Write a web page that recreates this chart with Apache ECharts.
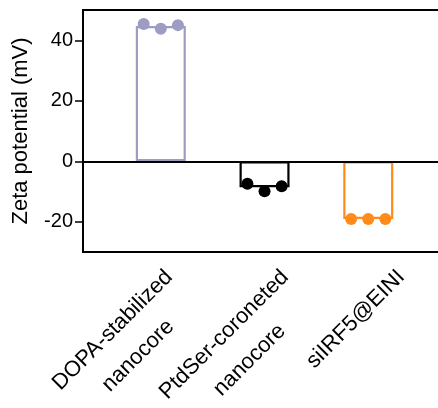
<!DOCTYPE html>
<html>
<head>
<meta charset="utf-8">
<script src="https://cdn.jsdelivr.net/npm/echarts@6/dist/echarts.min.js"></script>
<style>
  html, body { margin: 0; padding: 0; background: #fff; }
  #chart { width: 438px; height: 408px; }
</style>
</head>
<body>
<div id="chart"></div>
<script>
// ---- data ----
const categories = ['DOPA-stabilized\nnanocore', 'PtdSer-coroneted\nnanocore', 'siIRF5@EINI'];
const means = [44.7, -8.6, -19.1];
const replicates = [
  [45.4, 43.8, 45.0],
  [-7.4, -9.9, -8.3],
  [-19.1, -19.1, -19.1]
];
const yTicks = [-20, 0, 20, 40];
const yTitle = 'Zeta potential (mV)';

// ---- styles ----
const colors = ['#9d9cc3', '#000000', '#ff8c1a'];
const dotOffsets = [-0.165, 0, 0.165];
const FONT = '"Liberation Sans", Arial, Helvetica, sans-serif';

const barData = means.map((m, i) => ({
  value: [i, m],
  itemStyle: { borderColor: colors[i] }
}));
const dotData = [];
replicates.forEach((reps, i) => {
  reps.forEach((v, j) => {
    dotData.push({ value: [i + dotOffsets[j], v], itemStyle: { color: colors[i], opacity: 1 } });
  });
});

const chart = echarts.init(document.getElementById('chart'));
chart.setOption({
  animation: false,
  backgroundColor: '#fff',
  grid: {
    left: 83, top: 10, right: -34, bottom: 156,
    containLabel: false,
    outerBoundsMode: 'none',
    show: true, borderColor: '#000', borderWidth: 2,
    backgroundColor: 'rgba(0,0,0,0)'
  },
  xAxis: [
    {
      type: 'value', min: -0.75, max: 3.0,
      axisLine: { show: false, onZero: false },
      axisTick: { show: false },
      axisLabel: { show: false },
      splitLine: { show: false }
    },
    {
      type: 'value', min: -0.6336, max: 2.7198, position: 'bottom',
      axisLine: { show: false, onZero: false },
      axisTick: { show: false },
      splitLine: { show: false },
      axisLabel: {
        customValues: [0, 1, 2],
        rotate: 45,
        align: 'right',
        verticalAlign: 'top',
        margin: 9,
        formatter: function (v) {
          const name = categories[Math.round(v)] || '';
          return name.split('\n').map(s => '{c|' + s + '}').join('\n');
        },
        rich: {
          c: { align: 'center', fontSize: 22, lineHeight: 36, color: '#000', fontFamily: FONT }
        }
      }
    }
  ],
  yAxis: {
    type: 'value', min: -30, max: 50,
    axisLine: { show: true, onZero: false, lineStyle: { color: '#000', width: 2 } },
    axisTick: { show: true, customValues: yTicks, length: 8, lineStyle: { color: '#000', width: 1.5 } },
    axisLabel: { customValues: yTicks, fontSize: 20, color: '#000', margin: 10, fontFamily: FONT },
    splitLine: { show: false },
    name: yTitle,
    nameLocation: 'middle',
    nameGap: 51,
    nameTextStyle: { fontSize: 22, color: '#000', fontFamily: FONT }
  },
  series: [
    {
      type: 'bar',
      xAxisIndex: 0,
      data: barData,
      barWidth: 50,
      itemStyle: { color: 'rgba(255,255,255,0)', borderWidth: 2.2 },
      markLine: {
        silent: true,
        symbol: ['none', 'none'],
        label: { show: false },
        lineStyle: { color: '#000', width: 2, type: 'solid' },
        data: [{ yAxis: 0 }]
      }
    },
    {
      type: 'scatter',
      xAxisIndex: 0,
      data: dotData,
      symbol: 'circle',
      symbolSize: 12,
      itemStyle: { opacity: 1 }
    }
  ]
});
</script>
</body>
</html>
